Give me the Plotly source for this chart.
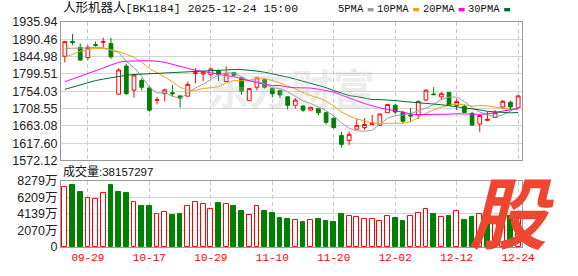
import plotly.graph_objects as go

# ---------------- data ----------------
dates = ["09-24", "09-25", "09-26", "09-29", "09-30", "10-09", "10-10", "10-13", "10-14", "10-15",
         "10-16", "10-17", "10-20", "10-21", "10-22", "10-23", "10-24", "10-27", "10-28", "10-29",
         "10-30", "10-31", "11-03", "11-04", "11-05", "11-06", "11-07", "11-10", "11-11", "11-12",
         "11-13", "11-14", "11-17", "11-18", "11-19", "11-20", "11-21", "11-24", "11-25", "11-26",
         "11-27", "11-28", "12-01", "12-02", "12-03", "12-04", "12-05", "12-08", "12-09", "12-10",
         "12-11", "12-12", "12-15", "12-16", "12-17", "12-18", "12-19", "12-22", "12-23", "12-24"]

opens = [1845.9, 1884.9, 1869.4, 1842.4, 1876.5, 1882.6, 1879.4, 1746.4, 1820.1, 1756.9,
         1782.6, 1762.6, 1730.1, 1747.6, 1750.1, 1741.8, 1741.1, 1800.5, 1799.5, 1797.4,
         1808.4, 1779.4, 1802.6, 1789.4, 1729.4, 1764.4, 1784.4, 1760.9, 1755.9, 1739.4,
         1716.9, 1715.1, 1704.4, 1708.4, 1697.6, 1682.6, 1637.6, 1625.1, 1654.4, 1658.4,
         1666.8, 1664.4, 1697.6, 1716.9, 1698.4, 1691.4, 1691.9, 1730.9, 1746.8, 1739.3,
         1750.9, 1716.9, 1714.3, 1695.9, 1667.6, 1677.6, 1685.1, 1712.6, 1725.1, 1710.9]
highs = [1885.0, 1904.4, 1879.4, 1874.4, 1885.0, 1894.4, 1894.4, 1814.4, 1826.4, 1797.5,
         1787.6, 1767.6, 1739.4, 1760.9, 1770.9, 1742.5, 1779.4, 1814.4, 1805.9, 1815.1,
         1810.9, 1819.4, 1803.5, 1791.9, 1761.6, 1791.9, 1785.9, 1762.6, 1758.4, 1740.5,
         1735.9, 1717.6, 1713.0, 1709.5, 1700.1, 1685.9, 1647.6, 1647.6, 1680.9, 1683.4,
         1691.9, 1695.0, 1720.0, 1720.9, 1702.6, 1710.1, 1729.4, 1758.4, 1764.4, 1751.8,
         1751.8, 1735.1, 1719.4, 1700.0, 1691.0, 1700.1, 1704.4, 1730.9, 1729.4, 1742.6]
lows = [1829.4, 1875.0, 1834.5, 1835.9, 1870.9, 1869.4, 1839.4, 1744.4, 1744.4, 1737.6,
        1755.9, 1700.1, 1719.4, 1727.6, 1739.4, 1710.9, 1740.5, 1775.1, 1780.9, 1789.4,
        1780.9, 1779.0, 1792.6, 1744.4, 1729.0, 1755.9, 1760.9, 1737.6, 1735.9, 1705.9,
        1708.4, 1700.1, 1703.0, 1690.9, 1666.8, 1655.9, 1605.9, 1612.6, 1654.0, 1652.6,
        1666.0, 1664.0, 1697.0, 1694.4, 1669.4, 1673.4, 1680.9, 1727.6, 1743.4, 1730.9,
        1716.0, 1704.4, 1697.6, 1662.6, 1647.6, 1675.1, 1684.0, 1706.9, 1704.4, 1710.0]
closes = [1884.4, 1882.0, 1835.9, 1869.4, 1874.6, 1884.4, 1844.4, 1809.9, 1747.6, 1796.9,
          1764.4, 1704.4, 1731.6, 1757.6, 1747.6, 1735.9, 1772.1, 1802.5, 1803.0, 1812.6,
          1797.4, 1799.4, 1795.9, 1754.4, 1760.9, 1789.4, 1764.4, 1747.6, 1744.4, 1716.9,
          1730.9, 1704.4, 1711.9, 1697.6, 1672.6, 1658.4, 1614.4, 1640.9, 1664.4, 1666.8,
          1670.9, 1694.4, 1719.4, 1699.4, 1675.1, 1689.0, 1727.6, 1756.9, 1745.1, 1747.6,
          1716.9, 1726.9, 1698.4, 1665.1, 1690.1, 1680.1, 1697.6, 1727.6, 1712.6, 1741.8]

# volume in 万 (10k shares)
volumes = [7465, 7747, 6900, 6133, 6053, 6738, 7747, 6900, 6779, 5649,
           5084, 5084, 4196, 4439, 3995, 4116, 5165, 5649, 5407, 4802,
           5568, 5407, 5084, 4479, 4075, 5165, 4479, 4237, 3632, 3510,
           3349, 3147, 3349, 3510, 3268, 3147, 4116, 3954, 3712, 3470,
           3470, 3228, 3954, 3632, 3268, 3833, 4317, 4802, 4196, 3712,
           3954, 4560, 3389, 3730, 4100, 3000, 3300, 3900, 3833, 3815.7]

ma5 = [1866.5, 1866.5, 1866.8, 1868.0, 1869.3, 1869.3, 1861.7, 1856.5, 1832.2, 1816.6,
       1792.6, 1764.6, 1749.0, 1751.0, 1741.1, 1735.4, 1749.0, 1763.1, 1772.2, 1785.2,
       1797.5, 1802.9, 1801.6, 1791.9, 1781.6, 1780.0, 1773.0, 1763.3, 1761.3, 1752.5,
       1740.8, 1728.8, 1721.7, 1712.3, 1703.5, 1689.0, 1671.0, 1656.8, 1650.1, 1649.0,
       1651.5, 1667.5, 1683.2, 1690.2, 1691.8, 1695.5, 1702.1, 1709.6, 1718.7, 1733.2,
       1738.8, 1738.7, 1727.0, 1711.0, 1699.5, 1692.1, 1686.3, 1692.1, 1701.6, 1711.9]
ma10 = [1843.0, 1852.0, 1859.0, 1864.0, 1866.5, 1866.5, 1863.0, 1858.5, 1851.0, 1843.0,
        1831.0, 1813.2, 1802.8, 1791.6, 1778.9, 1764.0, 1756.8, 1756.3, 1761.5, 1763.0,
        1766.3, 1775.8, 1782.2, 1781.9, 1783.3, 1788.6, 1787.8, 1782.1, 1776.6, 1767.1,
        1760.4, 1750.9, 1742.5, 1736.8, 1728.0, 1714.9, 1699.9, 1689.3, 1681.2, 1676.3,
        1670.3, 1669.3, 1670.0, 1670.2, 1670.4, 1673.5, 1684.8, 1696.4, 1704.5, 1712.5,
        1717.2, 1720.4, 1718.3, 1714.9, 1716.4, 1715.5, 1712.5, 1709.6, 1706.3, 1705.7]
ma20 = [1779, 1786, 1793, 1800, 1807, 1815, 1823, 1830, 1833, 1834,
        1834, 1834, 1833, 1830, 1825, 1819, 1813, 1809, 1806, 1803.0,
        1798.7, 1794.5, 1792.5, 1786.8, 1781.1, 1776.3, 1772.3, 1769.2, 1769.1, 1765.1,
        1763.4, 1763.4, 1762.4, 1759.4, 1755.7, 1751.8, 1743.9, 1735.7, 1728.9, 1721.7,
        1715.4, 1710.1, 1706.3, 1703.5, 1699.2, 1694.2, 1692.4, 1692.9, 1692.9, 1694.4,
        1693.8, 1694.9, 1694.2, 1692.6, 1693.4, 1694.5, 1698.7, 1703.0, 1705.4, 1709.1]
ma30 = [1759, 1765, 1771, 1777, 1782, 1786, 1790, 1793, 1796, 1798,
        1799, 1800, 1801, 1802, 1803, 1804, 1805, 1807, 1808, 1809,
        1810, 1811, 1811, 1811, 1810, 1807, 1804, 1800, 1796, 1791.0,
        1785.9, 1780.0, 1775.8, 1770.1, 1763.4, 1755.8, 1748.2, 1742.6, 1739.8, 1735.5,
        1732.3, 1732.0, 1731.6, 1729.6, 1727.2, 1725.7, 1724.2, 1722.6, 1720.8, 1718.6,
        1716.0, 1713.5, 1710.3, 1707.3, 1704.9, 1701.3, 1699.1, 1698.4, 1697.3, 1698.2]

price_ticks = [1572.12, 1617.60, 1663.08, 1708.55, 1754.03, 1799.51, 1844.98, 1890.46, 1935.94]
vol_ticks = [0, 2070, 4139, 6209, 8279]
vol_tick_text = ["0", "2070万", "4139万", "6209万", "8279万"]
date_ticks = ["09-29", "10-17", "10-29", "11-10", "11-20", "12-02", "12-12", "12-24"]

title_cn = "人形机器人"
title_rest = "[BK1184] 2025-12-24 15:00"
vol_label_cn = "成交量"
vol_label_num = ":38157297"
ma_names = ["5PMA", "10PMA", "20PMA", "30PMA"]
ma_colors = ["#9c9c9c", "#f2a30f", "#ff00ff", "#006b30"]

# ---------------- styling helpers ----------------
W, H = 578, 276
L, R, T, B = 56, 56, 22, 21
PW, PH = W - L - R, H - T - B


def px(x):
    return (x - L) / PW


def py(y):
    return (H - B - y) / PH


RED = "#ff0000"
GREEN = "#008000"
MONO = "Liberation Mono, Noto Sans CJK SC"
SANS = "Liberation Sans, Noto Sans CJK SC"

vol_up = [True] + [closes[i] >= closes[i - 1] for i in range(1, len(closes))]
vol_fill = ["#ffffff" if u else GREEN for u in vol_up]
vol_line = [RED if u else GREEN for u in vol_up]

fig = go.Figure()

fig.add_trace(go.Candlestick(
    x=dates, open=opens, high=highs, low=lows, close=closes,
    increasing=dict(line=dict(color=RED, width=1), fillcolor="#ffffff"),
    decreasing=dict(line=dict(color=GREEN, width=1), fillcolor=GREEN),
    whiskerwidth=0, hoverinfo="skip", showlegend=False, xaxis="x", yaxis="y"))

for name, vals, col in zip(ma_names, [ma5, ma10, ma20, ma30], ma_colors):
    fig.add_trace(go.Scatter(x=dates, y=vals, mode="lines", name=name,
                             line=dict(color=col, width=1), hoverinfo="skip",
                             showlegend=False, xaxis="x", yaxis="y"))

fig.add_trace(go.Bar(x=dates, y=volumes, width=0.62,
                     marker=dict(color=vol_fill, line=dict(color=vol_line, width=1)),
                     hoverinfo="skip", showlegend=False, xaxis="x2", yaxis="y2"))

grid_c = "#d4d4d4"
border_c = "#9a9a9a"
axis_common = dict(showline=True, mirror=True, linecolor=border_c, linewidth=1, zeroline=False)

fig.update_layout(
    width=W, height=H,
    margin=dict(l=L, r=R, t=T, b=B, pad=0),
    paper_bgcolor="#ffffff", plot_bgcolor="#ffffff",
    showlegend=False, bargap=0,
    xaxis=dict(domain=[0, 1], anchor="y", type="category", range=[-0.5, len(dates) - 0.5],
               tickvals=date_ticks, showticklabels=False, ticks="",
               showgrid=True, gridcolor="#c8c8c8", griddash="4px,3px", gridwidth=1,
               rangeslider=dict(visible=False), **axis_common),
    xaxis2=dict(domain=[0, 1], anchor="y2", type="category", matches="x",
                range=[-0.5, len(dates) - 0.5],
                tickvals=date_ticks, ticktext=date_ticks, ticks="",
                tickfont=dict(family=MONO, size=11, color=RED),
                showgrid=True, gridcolor="#c8c8c8", griddash="4px,3px", gridwidth=1,
                rangeslider=dict(visible=False), **axis_common),
    yaxis=dict(domain=[py(165.4), 1], anchor="x", range=[price_ticks[0], price_ticks[-1]],
               tickvals=price_ticks, ticktext=["%.2f" % v for v in price_ticks], ticks="",
               tickfont=dict(family=SANS, size=12.5, color="#222222"),
               showgrid=True, gridcolor=grid_c, gridwidth=1, **axis_common),
    yaxis2=dict(domain=[0, py(186.6)], anchor="x2", range=[0, vol_ticks[-1]],
                tickvals=vol_ticks, ticktext=vol_tick_text, ticks="",
                tickfont=dict(family=SANS, size=12.5, color="#222222"),
                showgrid=True, gridcolor=grid_c, gridwidth=1, **axis_common),
)

annotations = []
# watermark
annotations.append(dict(text="<b>东方财富</b>", xref="paper", yref="paper", x=px(288), y=py(89),
                        xanchor="center", yanchor="middle", showarrow=False,
                        font=dict(family="Noto Sans CJK SC", size=42, color="rgba(190,190,190,0.28)")))
# title
annotations.append(dict(text='<span style="font-size:12.5px">%s</span>%s' % (title_cn, title_rest),
                        xref="paper", yref="paper", x=px(56), y=py(8.5), xanchor="left",
                        yanchor="middle", showarrow=False,
                        font=dict(family=MONO, size=11.5, color="#111111")))
# legend texts + swatches
leg_right = [364, 410, 456, 502]
shapes = []
for name, col, xr in zip(ma_names, ma_colors, leg_right):
    annotations.append(dict(text=name, xref="paper", yref="paper", x=px(xr), y=py(9),
                            xanchor="right", yanchor="middle", showarrow=False,
                            font=dict(family=MONO, size=10.5, color="#111111")))
    shapes.append(dict(type="rect", xref="paper", yref="paper",
                       x0=px(xr + 2), x1=px(xr + 8), y0=py(11), y1=py(7.5),
                       fillcolor=col, line=dict(width=0)))
# volume label
annotations.append(dict(text='<span style="font-size:12px">%s</span>%s' % (vol_label_cn, vol_label_num),
                        xref="paper", yref="paper", x=px(56), y=py(177), xanchor="left",
                        yanchor="middle", showarrow=False,
                        font=dict(family=SANS, size=11.5, color="#111111")))
# logo glyph
annotations.append(dict(text="<b><i>股</i></b>", xref="paper", yref="paper", x=px(512), y=py(216),
                        xanchor="center", yanchor="middle", showarrow=False,
                        font=dict(family="Noto Sans CJK SC", size=78, color="#ee4630")))

fig.update_layout(annotations=annotations, shapes=shapes)

fig.write_html("out.html")
